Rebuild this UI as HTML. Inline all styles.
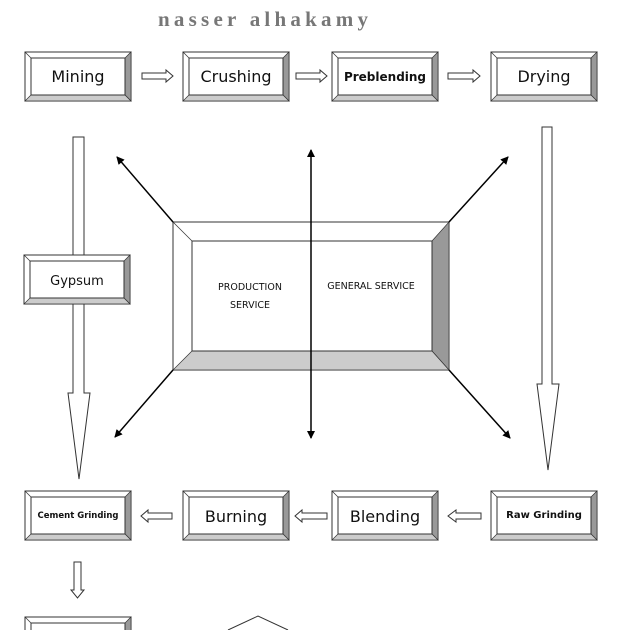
<!DOCTYPE html>
<html><head><meta charset="utf-8"><style>
html,body{margin:0;padding:0;background:#fff;overflow:hidden;width:623px;height:630px;}
svg{display:block;}
text{font-family:"DejaVu Sans","Liberation Sans",sans-serif;fill:#111;}
</style></head><body>
<svg width="623" height="630" viewBox="0 0 623 630" xmlns="http://www.w3.org/2000/svg">
<defs>
<g id="bx">
<rect x="0" y="0" width="106" height="49" fill="#fff" stroke="#333" stroke-width="1"/>
<polygon points="100,6 106,0 106,49 100,43" fill="#999" stroke="#333" stroke-width="0.7"/>
<polygon points="6,43 100,43 106,49 0,49" fill="#ccc" stroke="#333" stroke-width="0.7"/>
<line x1="0" y1="0" x2="6" y2="6" stroke="#333" stroke-width="0.7"/>
<rect x="6" y="6" width="94" height="37" fill="#fff" stroke="#333" stroke-width="1"/>
</g>
<marker id="ah" markerWidth="8" markerHeight="8" refX="7" refY="4" orient="auto" markerUnits="userSpaceOnUse"><path d="M0,0 L8,4 L0,8 z" fill="#000"/></marker>
<marker id="ah2" markerWidth="8" markerHeight="8" refX="1" refY="4" orient="auto" markerUnits="userSpaceOnUse"><path d="M8,0 L0,4 L8,8 z" fill="#000"/></marker>
</defs>

<text x="158" y="26" textLength="210" lengthAdjust="spacing" style="font-family:'Liberation Serif',serif;fill:#777;font-weight:bold" font-size="21">nasser alhakamy</text>

<!-- big vertical arrows -->
<polygon points="73,137 84,137 84,393 90,393 79,479 68,393 73,393" fill="#fff" stroke="#333"/>
<polygon points="542,127 552,127 552,384 559,384 548,470 537,384 542,384" fill="#fff" stroke="#333"/>

<!-- top row -->
<use href="#bx" x="25" y="52"/><text x="78" y="82" text-anchor="middle" font-size="16">Mining</text>
<use href="#bx" x="183" y="52"/><text x="236" y="82" text-anchor="middle" font-size="16">Crushing</text>
<use href="#bx" x="332" y="52"/><text x="385" y="81" text-anchor="middle" font-size="12" font-weight="bold">Preblending</text>
<use href="#bx" x="491" y="52"/><text x="544" y="82" text-anchor="middle" font-size="16">Drying</text>

<!-- small right arrows -->
<polygon points="142,73 166,73 166,70 173,76 166,82 166,79 142,79" fill="#fff" stroke="#333"/>
<polygon points="296,73 320,73 320,70 327,76 320,82 320,79 296,79" fill="#fff" stroke="#333"/>
<polygon points="448,73 473,73 473,70 480,76 473,82 473,79 448,79" fill="#fff" stroke="#333"/>

<!-- gypsum -->
<use href="#bx" x="24" y="255"/><text x="77" y="285" text-anchor="middle" font-size="13">Gypsum</text>

<!-- big center box -->
<rect x="173" y="222" width="276" height="148" fill="#fff" stroke="#333"/>
<polygon points="432,241 449,222 449,370 432,351" fill="#999" stroke="#333" stroke-width="0.7"/>
<polygon points="192,351 432,351 449,370 173,370" fill="#ccc" stroke="#333" stroke-width="0.7"/>
<line x1="173" y1="222" x2="192" y2="241" stroke="#333" stroke-width="0.7"/>
<rect x="192" y="241" width="240" height="110" fill="#fff" stroke="#333"/>
<text x="250" y="290" text-anchor="middle" font-size="9.5">PRODUCTION</text>
<text x="250" y="308" text-anchor="middle" font-size="9.5">SERVICE</text>
<text x="371" y="289" text-anchor="middle" font-size="9.5">GENERAL SERVICE</text>

<!-- connector lines -->
<line x1="311" y1="150" x2="311" y2="438" stroke="#000" stroke-width="1.5" marker-start="url(#ah2)" marker-end="url(#ah)"/>
<line x1="173" y1="222" x2="117" y2="157" stroke="#000" stroke-width="1.5" marker-end="url(#ah)"/>
<line x1="449" y1="222" x2="508" y2="157" stroke="#000" stroke-width="1.5" marker-end="url(#ah)"/>
<line x1="173" y1="370" x2="115" y2="437" stroke="#000" stroke-width="1.5" marker-end="url(#ah)"/>
<line x1="449" y1="370" x2="510" y2="438" stroke="#000" stroke-width="1.5" marker-end="url(#ah)"/>

<!-- bottom row -->
<use href="#bx" x="25" y="491"/><text x="78" y="518" text-anchor="middle" font-size="8.5" font-weight="bold">Cement Grinding</text>
<use href="#bx" x="183" y="491"/><text x="236" y="522" text-anchor="middle" font-size="16">Burning</text>
<use href="#bx" x="332" y="491"/><text x="385" y="522" text-anchor="middle" font-size="16">Blending</text>
<use href="#bx" x="491" y="491"/><text x="544" y="518" text-anchor="middle" font-size="10" font-weight="bold">Raw Grinding</text>

<!-- small left arrows -->
<polygon points="172,513 148,513 148,510 141,516 148,522 148,519 172,519" fill="#fff" stroke="#333"/>
<polygon points="327,513 302,513 302,510 295,516 302,522 302,519 327,519" fill="#fff" stroke="#333"/>
<polygon points="481,513 456,513 456,510 448,516 456,522 456,519 481,519" fill="#fff" stroke="#333"/>

<!-- down arrow -->
<polygon points="74,562 81,562 81,590 84,590 77.5,598 71,590 74,590" fill="#fff" stroke="#333"/>

<!-- bottom partial -->
<use href="#bx" x="25" y="617"/>
<polyline points="228,630 258,616 288,630" fill="none" stroke="#333"/>
</svg>
</body></html>
